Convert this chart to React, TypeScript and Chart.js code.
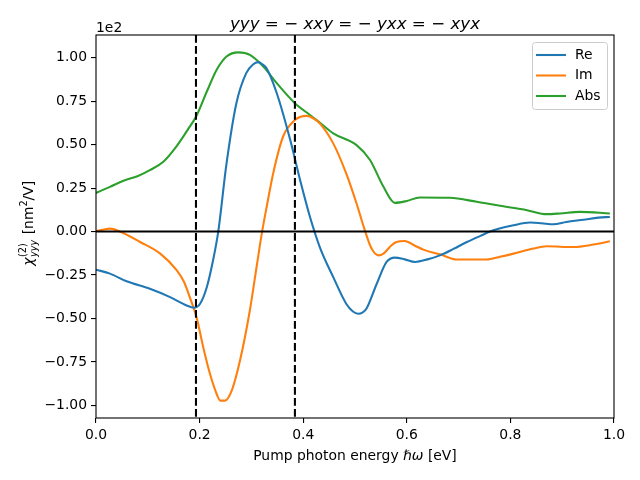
import React, { useEffect, useRef } from "react";
import { Chart, registerables } from "chart.js";

Chart.register(...registerables);

const reX = [0.000, 0.027, 0.059, 0.104, 0.143, 0.175, 0.189, 0.201, 0.214, 0.226, 0.236, 0.252, 0.271, 0.290, 0.303, 0.313, 0.322, 0.329, 0.349, 0.375, 0.394, 0.413, 0.432, 0.458, 0.483, 0.496, 0.506, 0.515, 0.522, 0.542, 0.561, 0.577, 0.596, 0.616, 0.640, 0.664, 0.690, 0.716, 0.742, 0.767, 0.806, 0.838, 0.860, 0.883, 0.908, 0.941, 0.970, 0.992];
const reY = [-0.219, -0.242, -0.286, -0.329, -0.377, -0.425, -0.438, -0.415, -0.319, -0.165, 0.0, 0.392, 0.738, 0.911, 0.960, 0.974, 0.960, 0.94, 0.795, 0.526, 0.296, 0.085, -0.089, -0.262, -0.415, -0.460, -0.473, -0.465, -0.444, -0.30, -0.175, -0.15, -0.160, -0.175, -0.160, -0.137, -0.100, -0.06, -0.025, 0.007, 0.036, 0.052, 0.048, 0.042, 0.055, 0.068, 0.080, 0.084];

const imX = [0.000, 0.015, 0.027, 0.046, 0.085, 0.124, 0.156, 0.170, 0.181, 0.194, 0.207, 0.220, 0.233, 0.240, 0.249, 0.262, 0.278, 0.297, 0.310, 0.320, 0.330, 0.342, 0.361, 0.384, 0.395, 0.407, 0.420, 0.432, 0.458, 0.483, 0.503, 0.519, 0.532, 0.545, 0.555, 0.570, 0.580, 0.596, 0.615, 0.632, 0.664, 0.696, 0.754, 0.780, 0.806, 0.844, 0.870, 0.922, 0.960, 0.992];
const imY = [0.002, 0.012, 0.017, 0.0, -0.06, -0.127, -0.223, -0.29, -0.377, -0.492, -0.665, -0.818, -0.934, -0.972, -0.972, -0.915, -0.742, -0.454, -0.204, -0.012, 0.15, 0.334, 0.545, 0.641, 0.660, 0.665, 0.650, 0.622, 0.507, 0.334, 0.161, 0.007, -0.098, -0.137, -0.127, -0.080, -0.06, -0.054, -0.080, -0.104, -0.131, -0.161, -0.161, -0.145, -0.127, -0.098, -0.085, -0.089, -0.075, -0.056];

const absX = [0.000, 0.027, 0.053, 0.080, 0.104, 0.130, 0.155, 0.181, 0.193, 0.214, 0.233, 0.252, 0.275, 0.297, 0.323, 0.349, 0.383, 0.413, 0.426, 0.458, 0.503, 0.529, 0.555, 0.577, 0.600, 0.625, 0.683, 0.735, 0.780, 0.832, 0.870, 0.896, 0.934, 0.992];
const absY = [0.222, 0.257, 0.292, 0.318, 0.353, 0.401, 0.488, 0.603, 0.660, 0.805, 0.930, 1.006, 1.030, 1.016, 0.949, 0.853, 0.741, 0.670, 0.641, 0.565, 0.497, 0.411, 0.257, 0.165, 0.176, 0.196, 0.194, 0.171, 0.148, 0.123, 0.100, 0.104, 0.113, 0.104];

const seriesNames = ["Re", "Im", "Abs"];
const seriesColors = ["#1f77b4", "#ff7f0e", "#2ca02c"];
const markerLinesX = [0.193, 0.384];
const xTickStep = 0.2;
const yTickStep = 0.25;
const xRange = [0, 1];
const yRange = [-1.072, 1.130];

const FONT = "'DejaVu Sans', sans-serif";
const LW = 2.08;

function pts(xs: number[], ys: number[]) {
  return xs.map((x, i) => ({ x, y: ys[i] }));
}

type Seg = [string, string, number?];

function drawSegs(ctx: CanvasRenderingContext2D, segs: Seg[], x: number, y: number, align: "center" | "left") {
  let total = 0;
  for (const s of segs) {
    ctx.font = s[1];
    total += ctx.measureText(s[0]).width;
  }
  let cx = align === "center" ? x - total / 2 : x;
  ctx.textAlign = "left";
  ctx.textBaseline = "alphabetic";
  for (const s of segs) {
    ctx.font = s[1];
    ctx.fillText(s[0], cx, y + (s[2] || 0));
    cx += ctx.measureText(s[0]).width;
  }
}

const decorPlugin = {
  id: "decor",
  afterDatasetsDraw(chart: any) {
    const { ctx, chartArea, scales } = chart;
    const xs = scales.x;
    const ys = scales.y;
    ctx.save();
    ctx.beginPath();
    ctx.rect(chartArea.left, chartArea.top, chartArea.right - chartArea.left, chartArea.bottom - chartArea.top);
    ctx.clip();
    ctx.strokeStyle = "#000";
    ctx.lineWidth = LW;
    ctx.setLineDash([]);
    const y0 = ys.getPixelForValue(0);
    ctx.beginPath();
    ctx.moveTo(chartArea.left, y0);
    ctx.lineTo(chartArea.right, y0);
    ctx.stroke();
    ctx.setLineDash([7.7, 3.3]);
    for (const v of markerLinesX) {
      const px = xs.getPixelForValue(v);
      ctx.beginPath();
      ctx.moveTo(px, chartArea.top);
      ctx.lineTo(px, chartArea.bottom);
      ctx.stroke();
    }
    ctx.restore();

    ctx.save();
    ctx.strokeStyle = "#000";
    ctx.lineWidth = 1.1;
    ctx.strokeRect(chartArea.left, chartArea.top, chartArea.right - chartArea.left, chartArea.bottom - chartArea.top);

    ctx.fillStyle = "#000";
    const tN = `16.7px ${FONT}`;
    const tI = `italic 16.7px ${FONT}`;
    const cxTitle = (chartArea.left + chartArea.right) / 2;
    drawSegs(ctx, [
      ["yyy", tI], [" = − ", tN], ["xxy", tI], [" = − ", tN], ["yxx", tI], [" = − ", tN], ["xyx", tI],
    ], cxTitle, 28.5, "center");

    ctx.font = `13.9px ${FONT}`;
    ctx.textAlign = "left";
    ctx.fillText("1e2", chartArea.left, 31.5);

    const n = `13.9px ${FONT}`;
    const it = `italic 13.9px ${FONT}`;
    drawSegs(ctx, [["Pump photon energy ", n], ["ℏω", it], [" [eV]", n]], cxTitle, 459.5, "center");

    ctx.save();
    ctx.translate(33, (chartArea.top + chartArea.bottom) / 2 - 3);
    ctx.rotate(-Math.PI / 2);
    const small = `9.7px ${FONT}`;
    const smallI = `italic 9.7px ${FONT}`;
    ctx.font = it;
    const wChi = ctx.measureText("χ").width;
    ctx.font = small;
    const wSup = ctx.measureText("(2)").width;
    ctx.font = smallI;
    const wSub = ctx.measureText("yyy").width;
    const wScript = Math.max(wSup, wSub);
    ctx.font = n;
    const wRest1 = ctx.measureText(" [nm").width;
    ctx.font = small;
    const w2 = ctx.measureText("2").width;
    ctx.font = n;
    const wRest2 = ctx.measureText("/V]").width;
    const total = wChi + wScript + 1 + wRest1 + w2 + wRest2;
    let px = -total / 2;
    ctx.textAlign = "left";
    ctx.font = it;
    ctx.fillText("χ", px, 0);
    px += wChi + 0.5;
    ctx.font = small;
    ctx.fillText("(2)", px, -7);
    ctx.font = smallI;
    ctx.fillText("yyy", px, 4);
    px += wScript + 1;
    ctx.font = n;
    ctx.fillText(" [nm", px, 0);
    px += wRest1;
    ctx.font = small;
    ctx.fillText("2", px, -6);
    px += w2;
    ctx.font = n;
    ctx.fillText("/V]", px, 0);
    ctx.restore();

    const lx = 532.5, ly = 42.5, lw = 75, lh = 67, r = 3;
    ctx.beginPath();
    ctx.moveTo(lx + r, ly);
    ctx.lineTo(lx + lw - r, ly);
    ctx.arcTo(lx + lw, ly, lx + lw, ly + r, r);
    ctx.lineTo(lx + lw, ly + lh - r);
    ctx.arcTo(lx + lw, ly + lh, lx + lw - r, ly + lh, r);
    ctx.lineTo(lx + r, ly + lh);
    ctx.arcTo(lx, ly + lh, lx, ly + lh - r, r);
    ctx.lineTo(lx, ly + r);
    ctx.arcTo(lx, ly, lx + r, ly, r);
    ctx.closePath();
    ctx.fillStyle = "rgba(255,255,255,0.8)";
    ctx.fill();
    ctx.strokeStyle = "#cccccc";
    ctx.lineWidth = 1;
    ctx.stroke();
    const rowsY = [55, 75.5, 96];
    seriesNames.forEach((name, i) => {
      ctx.strokeStyle = seriesColors[i];
      ctx.lineWidth = LW;
      ctx.beginPath();
      ctx.moveTo(536, rowsY[i]);
      ctx.lineTo(566, rowsY[i]);
      ctx.stroke();
      ctx.fillStyle = "#000";
      ctx.font = n;
      ctx.textBaseline = "middle";
      ctx.fillText(name, 575, rowsY[i]);
    });
    ctx.restore();
  },
};

export default function App() {
  const ref = useRef<HTMLCanvasElement | null>(null);
  useEffect(() => {
    if (!ref.current) return;
    const datasets = [pts(reX, reY), pts(imX, imY), pts(absX, absY)].map((d, i) => ({
      label: seriesNames[i],
      data: d,
      borderColor: seriesColors[i],
      backgroundColor: seriesColors[i],
      borderWidth: LW,
      pointRadius: 0,
      fill: false,
      cubicInterpolationMode: "monotone" as const,
    }));
    const tickFont = { family: FONT, size: 13.9 };
    const chart = new Chart(ref.current, {
      type: "line",
      data: { datasets },
      plugins: [decorPlugin],
      options: {
        animation: false,
        responsive: false,
        events: [],
        layout: { padding: { top: 35, right: 26, left: 0, bottom: 0 } },
        plugins: { legend: { display: false }, title: { display: false }, tooltip: { enabled: false } },
        scales: {
          x: {
            type: "linear",
            min: xRange[0],
            max: xRange[1],
            afterFit: (s: any) => { s.height = 62; },
            border: { display: false },
            grid: { drawOnChartArea: false, drawTicks: true, tickLength: 5, color: "#000", lineWidth: 1.1 },
            ticks: {
              stepSize: xTickStep,
              includeBounds: false,
              color: "#000",
              font: tickFont,
              padding: 4,
              maxRotation: 0,
              callback: (v: any) => Number(v).toFixed(1),
            },
          },
          y: {
            type: "linear",
            min: yRange[0],
            max: yRange[1],
            afterFit: (s: any) => { s.width = 96; },
            border: { display: false },
            grid: { drawOnChartArea: false, drawTicks: true, tickLength: 5, color: "#000", lineWidth: 1.1 },
            ticks: {
              stepSize: yTickStep,
              includeBounds: false,
              color: "#000",
              font: tickFont,
              padding: 4,
              callback: (v: any) => Number(v).toFixed(2).replace("-", "−"),
            },
          },
        },
      },
    });
    return () => chart.destroy();
  }, []);
  return (
    <div style={{ position: "absolute", left: 0, top: 0, width: 640, height: 480, background: "#fff" }}>
      <canvas ref={ref} width={640} height={480} style={{ display: "block" }} />
    </div>
  );
}
